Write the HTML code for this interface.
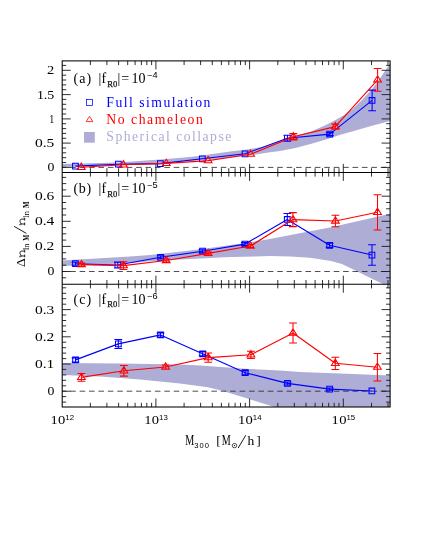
<!DOCTYPE html>
<html><head><meta charset="utf-8"><title>chart</title>
<style>html,body{margin:0;padding:0;background:#fff}svg{display:block;will-change:transform;opacity:0.9999}</style></head>
<body>
<svg width="425" height="550" viewBox="0 0 425 550">
<rect width="425" height="550" fill="#fff"/>
<polygon fill="#adadd6" points="62.2,164.1 118.0,162.4 160.0,159.6 190.0,157.0 202.0,155.4 230.0,151.6 245.0,149.7 262.0,147.0 275.0,142.5 287.0,138.0 300.0,134.6 310.6,131.8 325.9,124.9 335.0,120.3 345.0,114.6 352.0,109.5 362.0,100.0 372.0,89.0 381.0,77.0 390.1,63.2 390.1,120.9 372.0,125.8 352.0,131.4 341.2,134.5 325.9,139.4 310.6,144.0 295.3,148.1 280.0,150.9 270.0,152.3 250.0,155.3 230.0,157.6 190.0,161.0 160.0,163.4 118.0,165.2 62.2,167.0"/>
<polygon fill="#adadd6" points="62.2,260.6 130.0,256.5 150.0,255.1 190.0,250.4 202.6,249.0 245.0,243.0 270.0,239.1 310.0,231.3 330.0,227.6 390.1,213.7 390.1,284.2 383.5,284.2 381.0,283.0 373.5,279.6 363.0,274.3 352.4,269.0 341.8,264.1 331.2,260.9 310.0,257.8 290.0,256.6 270.0,256.1 230.0,257.0 190.0,258.9 150.0,261.3 130.0,263.0 62.2,266.0"/>
<polygon fill="#adadd6" points="62.2,363.1 120.0,363.6 180.0,364.6 200.0,365.5 245.0,368.7 280.0,370.6 300.0,372.0 340.0,373.6 390.1,375.5 390.1,407.0 274.6,407.0 260.0,402.4 245.0,397.7 223.8,391.2 208.0,387.2 180.0,383.6 140.0,379.4 100.0,376.6 62.2,375.1"/>
<line x1="62.2" x2="390.1" y1="167.4" y2="167.4" stroke="#222" stroke-width="0.8" stroke-dasharray="5.6 3.81" stroke-dashoffset="1.4"/>
<line x1="62.2" x2="390.1" y1="271.5" y2="271.5" stroke="#222" stroke-width="0.8" stroke-dasharray="5.6 3.81" stroke-dashoffset="1.4"/>
<line x1="62.2" x2="390.1" y1="391.2" y2="391.2" stroke="#222" stroke-width="0.8" stroke-dasharray="5.6 3.81" stroke-dashoffset="1.4"/>
<path fill="none" stroke="#1a1a1a" stroke-width="0.9" d="M90.4 60.9L90.4 65.1M90.4 172.4L90.4 168.2M106.9 60.9L106.9 65.1M106.9 172.4L106.9 168.2M118.6 60.9L118.6 65.1M118.6 172.4L118.6 168.2M127.7 60.9L127.7 65.1M127.7 172.4L127.7 168.2M135.1 60.9L135.1 65.1M135.1 172.4L135.1 168.2M141.4 60.9L141.4 65.1M141.4 172.4L141.4 168.2M146.8 60.9L146.8 65.1M146.8 172.4L146.8 168.2M151.6 60.9L151.6 65.1M151.6 172.4L151.6 168.2M155.9 60.9L155.9 69.4M155.9 172.4L155.9 163.9M184.1 60.9L184.1 65.1M184.1 172.4L184.1 168.2M200.6 60.9L200.6 65.1M200.6 172.4L200.6 168.2M212.3 60.9L212.3 65.1M212.3 172.4L212.3 168.2M221.4 60.9L221.4 65.1M221.4 172.4L221.4 168.2M228.8 60.9L228.8 65.1M228.8 172.4L228.8 168.2M235.1 60.9L235.1 65.1M235.1 172.4L235.1 168.2M240.5 60.9L240.5 65.1M240.5 172.4L240.5 168.2M245.3 60.9L245.3 65.1M245.3 172.4L245.3 168.2M249.6 60.9L249.6 69.4M249.6 172.4L249.6 163.9M277.8 60.9L277.8 65.1M277.8 172.4L277.8 168.2M294.3 60.9L294.3 65.1M294.3 172.4L294.3 168.2M306.0 60.9L306.0 65.1M306.0 172.4L306.0 168.2M315.1 60.9L315.1 65.1M315.1 172.4L315.1 168.2M322.5 60.9L322.5 65.1M322.5 172.4L322.5 168.2M328.7 60.9L328.7 65.1M328.7 172.4L328.7 168.2M334.2 60.9L334.2 65.1M334.2 172.4L334.2 168.2M339.0 60.9L339.0 65.1M339.0 172.4L339.0 168.2M343.3 60.9L343.3 69.4M343.3 172.4L343.3 163.9M371.5 60.9L371.5 65.1M371.5 172.4L371.5 168.2M388.0 60.9L388.0 65.1M388.0 172.4L388.0 168.2M62.2 167.4L70.7 167.4M390.1 167.4L381.6 167.4M62.2 162.5L66.2 162.5M390.1 162.5L386.1 162.5M62.2 157.7L66.2 157.7M390.1 157.7L386.1 157.7M62.2 152.8L66.2 152.8M390.1 152.8L386.1 152.8M62.2 148.0L66.2 148.0M390.1 148.0L386.1 148.0M62.2 143.1L70.7 143.1M390.1 143.1L381.6 143.1M62.2 138.3L66.2 138.3M390.1 138.3L386.1 138.3M62.2 133.4L66.2 133.4M390.1 133.4L386.1 133.4M62.2 128.6L66.2 128.6M390.1 128.6L386.1 128.6M62.2 123.7L66.2 123.7M390.1 123.7L386.1 123.7M62.2 118.9L70.7 118.9M390.1 118.9L381.6 118.9M62.2 114.0L66.2 114.0M390.1 114.0L386.1 114.0M62.2 109.1L66.2 109.1M390.1 109.1L386.1 109.1M62.2 104.3L66.2 104.3M390.1 104.3L386.1 104.3M62.2 99.4L66.2 99.4M390.1 99.4L386.1 99.4M62.2 94.6L70.7 94.6M390.1 94.6L381.6 94.6M62.2 89.7L66.2 89.7M390.1 89.7L386.1 89.7M62.2 84.9L66.2 84.9M390.1 84.9L386.1 84.9M62.2 80.0L66.2 80.0M390.1 80.0L386.1 80.0M62.2 75.2L66.2 75.2M390.1 75.2L386.1 75.2M62.2 70.3L70.7 70.3M390.1 70.3L381.6 70.3M62.2 65.4L66.2 65.4M390.1 65.4L386.1 65.4M90.4 172.4L90.4 176.6M90.4 284.2L90.4 280.0M106.9 172.4L106.9 176.6M106.9 284.2L106.9 280.0M118.6 172.4L118.6 176.6M118.6 284.2L118.6 280.0M127.7 172.4L127.7 176.6M127.7 284.2L127.7 280.0M135.1 172.4L135.1 176.6M135.1 284.2L135.1 280.0M141.4 172.4L141.4 176.6M141.4 284.2L141.4 280.0M146.8 172.4L146.8 176.6M146.8 284.2L146.8 280.0M151.6 172.4L151.6 176.6M151.6 284.2L151.6 280.0M155.9 172.4L155.9 180.9M155.9 284.2L155.9 275.7M184.1 172.4L184.1 176.6M184.1 284.2L184.1 280.0M200.6 172.4L200.6 176.6M200.6 284.2L200.6 280.0M212.3 172.4L212.3 176.6M212.3 284.2L212.3 280.0M221.4 172.4L221.4 176.6M221.4 284.2L221.4 280.0M228.8 172.4L228.8 176.6M228.8 284.2L228.8 280.0M235.1 172.4L235.1 176.6M235.1 284.2L235.1 280.0M240.5 172.4L240.5 176.6M240.5 284.2L240.5 280.0M245.3 172.4L245.3 176.6M245.3 284.2L245.3 280.0M249.6 172.4L249.6 180.9M249.6 284.2L249.6 275.7M277.8 172.4L277.8 176.6M277.8 284.2L277.8 280.0M294.3 172.4L294.3 176.6M294.3 284.2L294.3 280.0M306.0 172.4L306.0 176.6M306.0 284.2L306.0 280.0M315.1 172.4L315.1 176.6M315.1 284.2L315.1 280.0M322.5 172.4L322.5 176.6M322.5 284.2L322.5 280.0M328.7 172.4L328.7 176.6M328.7 284.2L328.7 280.0M334.2 172.4L334.2 176.6M334.2 284.2L334.2 280.0M339.0 172.4L339.0 176.6M339.0 284.2L339.0 280.0M343.3 172.4L343.3 180.9M343.3 284.2L343.3 275.7M371.5 172.4L371.5 176.6M371.5 284.2L371.5 280.0M388.0 172.4L388.0 176.6M388.0 284.2L388.0 280.0M62.2 277.8L66.2 277.8M390.1 277.8L386.1 277.8M62.2 271.5L70.7 271.5M390.1 271.5L381.6 271.5M62.2 265.2L66.2 265.2M390.1 265.2L386.1 265.2M62.2 258.9L66.2 258.9M390.1 258.9L386.1 258.9M62.2 252.7L66.2 252.7M390.1 252.7L386.1 252.7M62.2 246.4L70.7 246.4M390.1 246.4L381.6 246.4M62.2 240.1L66.2 240.1M390.1 240.1L386.1 240.1M62.2 233.8L66.2 233.8M390.1 233.8L386.1 233.8M62.2 227.6L66.2 227.6M390.1 227.6L386.1 227.6M62.2 221.3L70.7 221.3M390.1 221.3L381.6 221.3M62.2 215.0L66.2 215.0M390.1 215.0L386.1 215.0M62.2 208.8L66.2 208.8M390.1 208.8L386.1 208.8M62.2 202.5L66.2 202.5M390.1 202.5L386.1 202.5M62.2 196.2L70.7 196.2M390.1 196.2L381.6 196.2M62.2 189.9L66.2 189.9M390.1 189.9L386.1 189.9M62.2 183.6L66.2 183.6M390.1 183.6L386.1 183.6M62.2 177.4L66.2 177.4M390.1 177.4L386.1 177.4M90.4 284.2L90.4 288.4M90.4 407.0L90.4 402.8M106.9 284.2L106.9 288.4M106.9 407.0L106.9 402.8M118.6 284.2L118.6 288.4M118.6 407.0L118.6 402.8M127.7 284.2L127.7 288.4M127.7 407.0L127.7 402.8M135.1 284.2L135.1 288.4M135.1 407.0L135.1 402.8M141.4 284.2L141.4 288.4M141.4 407.0L141.4 402.8M146.8 284.2L146.8 288.4M146.8 407.0L146.8 402.8M151.6 284.2L151.6 288.4M151.6 407.0L151.6 402.8M155.9 284.2L155.9 292.7M155.9 407.0L155.9 398.5M184.1 284.2L184.1 288.4M184.1 407.0L184.1 402.8M200.6 284.2L200.6 288.4M200.6 407.0L200.6 402.8M212.3 284.2L212.3 288.4M212.3 407.0L212.3 402.8M221.4 284.2L221.4 288.4M221.4 407.0L221.4 402.8M228.8 284.2L228.8 288.4M228.8 407.0L228.8 402.8M235.1 284.2L235.1 288.4M235.1 407.0L235.1 402.8M240.5 284.2L240.5 288.4M240.5 407.0L240.5 402.8M245.3 284.2L245.3 288.4M245.3 407.0L245.3 402.8M249.6 284.2L249.6 292.7M249.6 407.0L249.6 398.5M277.8 284.2L277.8 288.4M277.8 407.0L277.8 402.8M294.3 284.2L294.3 288.4M294.3 407.0L294.3 402.8M306.0 284.2L306.0 288.4M306.0 407.0L306.0 402.8M315.1 284.2L315.1 288.4M315.1 407.0L315.1 402.8M322.5 284.2L322.5 288.4M322.5 407.0L322.5 402.8M328.7 284.2L328.7 288.4M328.7 407.0L328.7 402.8M334.2 284.2L334.2 288.4M334.2 407.0L334.2 402.8M339.0 284.2L339.0 288.4M339.0 407.0L339.0 402.8M343.3 284.2L343.3 292.7M343.3 407.0L343.3 398.5M371.5 284.2L371.5 288.4M371.5 407.0L371.5 402.8M388.0 284.2L388.0 288.4M388.0 407.0L388.0 402.8M62.2 402.1L66.2 402.1M390.1 402.1L386.1 402.1M62.2 396.6L66.2 396.6M390.1 396.6L386.1 396.6M62.2 391.2L70.7 391.2M390.1 391.2L381.6 391.2M62.2 385.8L66.2 385.8M390.1 385.8L386.1 385.8M62.2 380.3L66.2 380.3M390.1 380.3L386.1 380.3M62.2 374.9L66.2 374.9M390.1 374.9L386.1 374.9M62.2 369.4L66.2 369.4M390.1 369.4L386.1 369.4M62.2 364.0L70.7 364.0M390.1 364.0L381.6 364.0M62.2 358.6L66.2 358.6M390.1 358.6L386.1 358.6M62.2 353.1L66.2 353.1M390.1 353.1L386.1 353.1M62.2 347.7L66.2 347.7M390.1 347.7L386.1 347.7M62.2 342.2L66.2 342.2M390.1 342.2L386.1 342.2M62.2 336.8L70.7 336.8M390.1 336.8L381.6 336.8M62.2 331.4L66.2 331.4M390.1 331.4L386.1 331.4M62.2 325.9L66.2 325.9M390.1 325.9L386.1 325.9M62.2 320.5L66.2 320.5M390.1 320.5L386.1 320.5M62.2 315.0L66.2 315.0M390.1 315.0L386.1 315.0M62.2 309.6L70.7 309.6M390.1 309.6L381.6 309.6M62.2 304.2L66.2 304.2M390.1 304.2L386.1 304.2M62.2 298.7L66.2 298.7M390.1 298.7L386.1 298.7M62.2 293.3L66.2 293.3M390.1 293.3L386.1 293.3M62.2 287.8L66.2 287.8M390.1 287.8L386.1 287.8"/>
<g fill="none" stroke="#000" stroke-width="1.05">
<rect x="62.2" y="60.9" width="327.9" height="346.1"/>
<line x1="62.2" x2="390.1" y1="172.4" y2="172.4"/>
<line x1="62.2" x2="390.1" y1="284.2" y2="284.2"/>
</g>
<g fill="none" stroke="#0000ff">
<polyline stroke-width="1.15" stroke-linejoin="round" points="75.4,166.1 118.3,164.2 160.3,163.6 202.3,158.8 245.0,153.8 287.4,138.2 329.8,134.1 372.1,100.4"/>
<path stroke-width="1.05" d="M72.6 163.2h5.7v5.7h-5.7zM115.5 161.3h5.7v5.7h-5.7zM157.5 160.8h5.7v5.7h-5.7zM199.5 156.0h5.7v5.7h-5.7zM242.2 151.0h5.7v5.7h-5.7zM287.4 135.2L287.4 141.2M283.5 135.2L291.3 135.2M283.5 141.2L291.3 141.2M284.5 135.3h5.7v5.7h-5.7zM329.8 132.6L329.8 135.6M325.9 132.6L333.7 132.6M325.9 135.6L333.7 135.6M326.9 131.2h5.7v5.7h-5.7zM372.1 90.1L372.1 110.7M368.2 90.1L376.0 90.1M368.2 110.7L376.0 110.7M369.2 97.6h5.7v5.7h-5.7z"/>
</g>
<g fill="none" stroke="#ff0000">
<polyline stroke-width="1.15" stroke-linejoin="round" points="81.3,167.3 123.4,164.8 166.3,163.4 208.1,160.6 250.6,154.2 293.3,136.8 335.3,126.6 377.6,79.9"/>
<path stroke-width="1.05" d="M81.3 163.1L85.2 169.4L77.4 169.4zM123.4 160.6L127.3 166.9L119.5 166.9zM166.3 159.2L170.2 165.5L162.4 165.5zM208.1 156.4L212.0 162.7L204.2 162.7zM250.6 150.0L254.5 156.3L246.7 156.3zM293.3 133.6L293.3 140.0M289.4 133.6L297.2 133.6M289.4 140.0L297.2 140.0M293.3 132.6L297.2 138.9L289.4 138.9zM335.3 124.1L335.3 129.1M331.4 124.1L339.2 124.1M331.4 129.1L339.2 129.1M335.3 122.4L339.2 128.7L331.4 128.7zM377.6 68.5L377.6 91.3M373.7 68.5L381.5 68.5M373.7 91.3L381.5 91.3M377.6 75.7L381.5 82.0L373.7 82.0z"/>
</g>
<g fill="none" stroke="#0000ff">
<polyline stroke-width="1.15" stroke-linejoin="round" points="75.4,263.7 117.8,265.0 160.7,257.3 202.5,251.2 244.9,244.1 287.3,219.4 329.6,245.3 372.0,255.0"/>
<path stroke-width="1.05" d="M75.4 262.2L75.4 265.2M71.5 262.2L79.3 262.2M71.5 265.2L79.3 265.2M72.6 260.8h5.7v5.7h-5.7zM117.8 262.0L117.8 268.0M113.9 262.0L121.7 262.0M113.9 268.0L121.7 268.0M115.0 262.1h5.7v5.7h-5.7zM160.7 255.8L160.7 258.8M156.8 255.8L164.6 255.8M156.8 258.8L164.6 258.8M157.8 254.5h5.7v5.7h-5.7zM202.5 249.7L202.5 252.7M198.6 249.7L206.4 249.7M198.6 252.7L206.4 252.7M199.7 248.3h5.7v5.7h-5.7zM244.9 242.6L244.9 245.6M241.0 242.6L248.8 242.6M241.0 245.6L248.8 245.6M242.1 241.2h5.7v5.7h-5.7zM287.3 213.4L287.3 225.4M283.4 213.4L291.2 213.4M283.4 225.4L291.2 225.4M284.4 216.6h5.7v5.7h-5.7zM329.6 243.3L329.6 247.3M325.7 243.3L333.5 243.3M325.7 247.3L333.5 247.3M326.8 242.5h5.7v5.7h-5.7zM372.0 244.8L372.0 265.2M368.1 244.8L375.9 244.8M368.1 265.2L375.9 265.2M369.1 252.2h5.7v5.7h-5.7z"/>
</g>
<g fill="none" stroke="#ff0000">
<polyline stroke-width="1.15" stroke-linejoin="round" points="81.4,264.6 123.4,265.6 166.2,260.5 208.1,253.4 250.4,246.0 292.9,219.6 335.4,221.0 377.5,212.3"/>
<path stroke-width="1.05" d="M81.4 263.1L81.4 266.1M77.5 263.1L85.3 263.1M77.5 266.1L85.3 266.1M81.4 260.4L85.3 266.7L77.5 266.7zM123.4 261.8L123.4 269.4M119.5 261.8L127.3 261.8M119.5 269.4L127.3 269.4M123.4 261.4L127.3 267.7L119.5 267.7zM166.2 259.0L166.2 262.0M162.3 259.0L170.1 259.0M162.3 262.0L170.1 262.0M166.2 256.3L170.1 262.6L162.3 262.6zM208.1 251.9L208.1 254.9M204.2 251.9L212.0 251.9M204.2 254.9L212.0 254.9M208.1 249.2L212.0 255.5L204.2 255.5zM250.4 244.5L250.4 247.5M246.5 244.5L254.3 244.5M246.5 247.5L254.3 247.5M250.4 241.8L254.3 248.1L246.5 248.1zM292.9 212.6L292.9 226.6M289.0 212.6L296.8 212.6M289.0 226.6L296.8 226.6M292.9 215.4L296.8 221.7L289.0 221.7zM335.4 215.3L335.4 226.7M331.5 215.3L339.3 215.3M331.5 226.7L339.3 226.7M335.4 216.8L339.3 223.1L331.5 223.1zM377.5 194.7L377.5 229.9M373.6 194.7L381.4 194.7M373.6 229.9L381.4 229.9M377.5 208.1L381.4 214.4L373.6 214.4z"/>
</g>
<g fill="none" stroke="#0000ff">
<polyline stroke-width="1.15" stroke-linejoin="round" points="75.5,359.9 118.3,343.9 160.5,334.9 202.6,353.8 245.2,372.7 287.5,383.4 329.7,389.1 371.9,391.0"/>
<path stroke-width="1.05" d="M75.5 357.9L75.5 361.9M71.6 357.9L79.4 357.9M71.6 361.9L79.4 361.9M72.7 357.0h5.7v5.7h-5.7zM118.3 339.4L118.3 348.4M114.4 339.4L122.2 339.4M114.4 348.4L122.2 348.4M115.5 341.0h5.7v5.7h-5.7zM160.5 332.9L160.5 336.9M156.6 332.9L164.4 332.9M156.6 336.9L164.4 336.9M157.7 332.0h5.7v5.7h-5.7zM202.6 351.8L202.6 355.8M198.7 351.8L206.5 351.8M198.7 355.8L206.5 355.8M199.8 350.9h5.7v5.7h-5.7zM245.2 370.7L245.2 374.7M241.3 370.7L249.1 370.7M241.3 374.7L249.1 374.7M242.3 369.8h5.7v5.7h-5.7zM287.5 381.9L287.5 384.9M283.6 381.9L291.4 381.9M283.6 384.9L291.4 384.9M284.6 380.5h5.7v5.7h-5.7zM329.7 387.9L329.7 390.3M325.8 387.9L333.6 387.9M325.8 390.3L333.6 390.3M326.8 386.2h5.7v5.7h-5.7zM369.0 388.1h5.7v5.7h-5.7z"/>
</g>
<g fill="none" stroke="#ff0000">
<polyline stroke-width="1.15" stroke-linejoin="round" points="81.4,377.4 123.9,370.8 165.6,367.0 208.2,357.6 250.9,354.8 293.0,333.0 335.3,363.3 377.4,367.2"/>
<path stroke-width="1.05" d="M81.4 373.5L81.4 381.3M77.5 373.5L85.3 373.5M77.5 381.3L85.3 381.3M81.4 373.2L85.3 379.5L77.5 379.5zM123.9 365.5L123.9 376.1M120.0 365.5L127.8 365.5M120.0 376.1L127.8 376.1M123.9 366.6L127.8 372.9L120.0 372.9zM165.6 365.0L165.6 369.0M161.7 365.0L169.5 365.0M161.7 369.0L169.5 369.0M165.6 362.8L169.5 369.1L161.7 369.1zM208.2 352.9L208.2 362.3M204.3 352.9L212.1 352.9M204.3 362.3L212.1 362.3M208.2 353.4L212.1 359.7L204.3 359.7zM250.9 351.2L250.9 358.4M247.0 351.2L254.8 351.2M247.0 358.4L254.8 358.4M250.9 350.6L254.8 356.9L247.0 356.9zM293.0 323.0L293.0 343.0M289.1 323.0L296.9 323.0M289.1 343.0L296.9 343.0M293.0 328.8L296.9 335.1L289.1 335.1zM335.3 357.2L335.3 369.4M331.4 357.2L339.2 357.2M331.4 369.4L339.2 369.4M335.3 359.1L339.2 365.4L331.4 365.4zM377.4 353.5L377.4 380.9M373.5 353.5L381.3 353.5M373.5 380.9L381.3 380.9M377.4 363.0L381.3 369.3L373.5 369.3z"/>
</g>
<rect x="86.5" y="99.5" width="6" height="6" fill="none" stroke="#0000ff" stroke-width="0.75"/>
<path d="M89.5 116.3L92.8 121.6L86.2 121.6z" fill="none" stroke="#ff0000" stroke-width="0.8"/>
<rect x="84" y="132" width="10.8" height="10.7" fill="#adadd6"/>
<g font-family="Liberation Serif, serif" font-size="13.7">
<text x="106.3" y="106.9" fill="#0000ff" textLength="104" lengthAdjust="spacing">Full simulation</text>
<text x="106.3" y="124.2" fill="#ff0000" textLength="96.5" lengthAdjust="spacing">No chameleon</text>
<text x="106.3" y="140.5" fill="#adadd6" textLength="125" lengthAdjust="spacing">Spherical collapse</text>
</g>
<g font-family="Liberation Serif, serif" fill="#000">
<text x="73.4" y="83.3" font-size="14" textLength="17.8" lengthAdjust="spacing">(a)</text>
<text x="98.6" y="83.3" font-size="14">|f</text>
<text x="107.3" y="86.8" font-size="9" fill="#111" stroke="#111" stroke-width="0.25" textLength="10" lengthAdjust="spacingAndGlyphs">R0</text>
<text x="117.6" y="83.3" font-size="14">|</text>
<text x="121.2" y="83.3" font-size="14">=</text>
<text x="131.6" y="83.3" font-size="14" textLength="14" lengthAdjust="spacing">10</text>
<text x="147.2" y="78.4" font-size="8.5" font-family="Liberation Sans, sans-serif" textLength="10.5" lengthAdjust="spacingAndGlyphs">−4</text>
</g>
<g font-family="Liberation Serif, serif" fill="#000">
<text x="73.4" y="193.2" font-size="14" textLength="17.8" lengthAdjust="spacing">(b)</text>
<text x="98.6" y="193.2" font-size="14">|f</text>
<text x="107.3" y="196.7" font-size="9" fill="#111" stroke="#111" stroke-width="0.25" textLength="10" lengthAdjust="spacingAndGlyphs">R0</text>
<text x="117.6" y="193.2" font-size="14">|</text>
<text x="121.2" y="193.2" font-size="14">=</text>
<text x="131.6" y="193.2" font-size="14" textLength="14" lengthAdjust="spacing">10</text>
<text x="147.2" y="188.3" font-size="8.5" font-family="Liberation Sans, sans-serif" textLength="10.5" lengthAdjust="spacingAndGlyphs">−5</text>
</g>
<g font-family="Liberation Serif, serif" fill="#000">
<text x="73.4" y="303.6" font-size="14" textLength="17.8" lengthAdjust="spacing">(c)</text>
<text x="98.6" y="303.6" font-size="14">|f</text>
<text x="107.3" y="307.1" font-size="9" fill="#111" stroke="#111" stroke-width="0.25" textLength="10" lengthAdjust="spacingAndGlyphs">R0</text>
<text x="117.6" y="303.6" font-size="14">|</text>
<text x="121.2" y="303.6" font-size="14">=</text>
<text x="131.6" y="303.6" font-size="14" textLength="14" lengthAdjust="spacing">10</text>
<text x="147.2" y="298.7" font-size="8.5" font-family="Liberation Sans, sans-serif" textLength="10.5" lengthAdjust="spacingAndGlyphs">−6</text>
</g>
<g font-family="Liberation Serif, serif" font-size="13" fill="#000">
<text x="47.40" y="171.3" textLength="6.9" lengthAdjust="spacingAndGlyphs">0</text>
<text x="34.90" y="147.0" textLength="19.4" lengthAdjust="spacingAndGlyphs">0.5</text>
<text x="49.30" y="122.8" textLength="5.0" lengthAdjust="spacingAndGlyphs">1</text>
<text x="36.90" y="98.5" textLength="17.4" lengthAdjust="spacingAndGlyphs">1.5</text>
<text x="47.10" y="74.2" textLength="7.2" lengthAdjust="spacingAndGlyphs">2</text>
<text x="47.40" y="275.4" textLength="6.9" lengthAdjust="spacingAndGlyphs">0</text>
<text x="34.90" y="250.3" textLength="19.4" lengthAdjust="spacingAndGlyphs">0.2</text>
<text x="34.90" y="225.2" textLength="19.4" lengthAdjust="spacingAndGlyphs">0.4</text>
<text x="34.90" y="200.1" textLength="19.4" lengthAdjust="spacingAndGlyphs">0.6</text>
<text x="47.40" y="395.1" textLength="6.9" lengthAdjust="spacingAndGlyphs">0</text>
<text x="34.90" y="367.9" textLength="19.4" lengthAdjust="spacingAndGlyphs">0.1</text>
<text x="34.90" y="340.7" textLength="19.4" lengthAdjust="spacingAndGlyphs">0.2</text>
<text x="34.90" y="313.5" textLength="19.4" lengthAdjust="spacingAndGlyphs">0.3</text>
</g>
<text transform="translate(50.5,423.8) scale(1.120,1)" font-family="Liberation Serif, serif" font-size="13" letter-spacing="0.3">10</text>
<text x="65.3" y="419.6" font-family="Liberation Sans, sans-serif" font-size="7.8" textLength="8.8" lengthAdjust="spacing">12</text>
<text transform="translate(144.2,423.8) scale(1.120,1)" font-family="Liberation Serif, serif" font-size="13" letter-spacing="0.3">10</text>
<text x="159.0" y="419.6" font-family="Liberation Sans, sans-serif" font-size="7.8" textLength="8.8" lengthAdjust="spacing">13</text>
<text transform="translate(237.9,423.8) scale(1.120,1)" font-family="Liberation Serif, serif" font-size="13" letter-spacing="0.3">10</text>
<text x="252.7" y="419.6" font-family="Liberation Sans, sans-serif" font-size="7.8" textLength="8.8" lengthAdjust="spacing">14</text>
<text transform="translate(331.6,423.8) scale(1.120,1)" font-family="Liberation Serif, serif" font-size="13" letter-spacing="0.3">10</text>
<text x="346.4" y="419.6" font-family="Liberation Sans, sans-serif" font-size="7.8" textLength="8.8" lengthAdjust="spacing">15</text>
<g font-family="Liberation Serif, serif" fill="#000">
<text x="185.2" y="444.8" font-size="14" textLength="9" lengthAdjust="spacingAndGlyphs">M</text>
<text x="194.3" y="448.2" font-size="7.6" font-family="Liberation Sans, sans-serif" textLength="14.8" lengthAdjust="spacing">300</text>
<text x="216.2" y="444.8" font-size="13.5">[</text>
<text x="221.8" y="444.8" font-size="14" textLength="9" lengthAdjust="spacingAndGlyphs">M</text>
<circle cx="234.5" cy="445.6" r="2.2" fill="none" stroke="#000" stroke-width="0.7"/><circle cx="234.5" cy="445.6" r="0.6"/>
<line x1="238.2" y1="448" x2="245.8" y2="435.2" stroke="#000" stroke-width="0.9"/>
<text x="247.4" y="444.8" font-size="13.5">h</text>
<text x="256.3" y="444.8" font-size="13.5">]</text>
</g>
<g transform="translate(24.7,267) rotate(-90)" font-family="Liberation Serif, serif" fill="#000">
<text x="0" y="0" font-size="12.5" textLength="8.7" lengthAdjust="spacingAndGlyphs">Δ</text>
<path transform="translate(9.7,0)" d="M1.3 0V-4.8M1.3 -3.1C2.6 -5 6.2 -5.6 6.2 -2.9V0M0 0H2.8M4.7 0H7.6M0 -4.8H1.3" fill="none" stroke="#000" stroke-width="0.85"/>
<text x="16.9" y="4.2" font-size="9" textLength="6.6" lengthAdjust="spacingAndGlyphs">ln</text>
<text x="26.2" y="4.2" font-size="8.5" font-weight="bold" textLength="6" lengthAdjust="spacingAndGlyphs">M</text>
<line x1="33.6" y1="1.7" x2="40.6" y2="-10.5" stroke="#000" stroke-width="0.9"/>
<path transform="translate(41.7,0)" d="M1.3 0V-4.8M1.3 -3.1C2.6 -5 6.2 -5.6 6.2 -2.9V0M0 0H2.8M4.7 0H7.6M0 -4.8H1.3" fill="none" stroke="#000" stroke-width="0.85"/>
<text x="48.9" y="4.2" font-size="9" textLength="7" lengthAdjust="spacingAndGlyphs">ln</text>
<text x="59" y="4.2" font-size="8.5" font-weight="bold" textLength="6.5" lengthAdjust="spacingAndGlyphs">M</text>
</g>
</svg>
</body></html>
